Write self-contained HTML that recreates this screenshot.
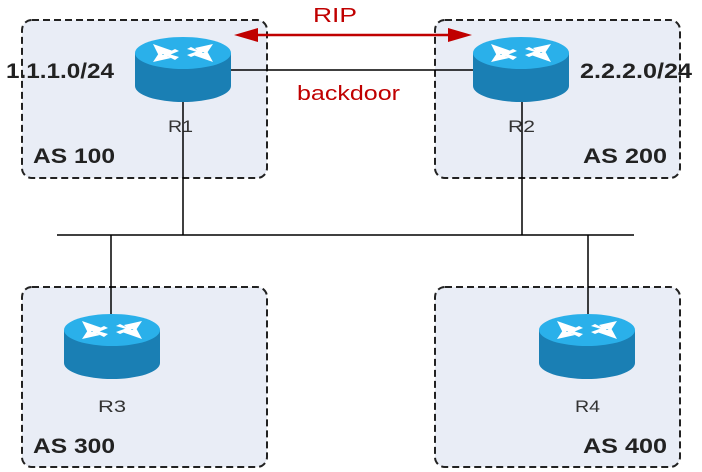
<!DOCTYPE html>
<html><head><style>body{margin:0;background:#fff}svg{display:block}</style></head><body>
<svg width="702" height="472" viewBox="0 0 702 472" font-family="Liberation Sans, sans-serif">
<defs>
<g id="rt">
<path d="M-48,0 L-48,33 A48,16 0 0 0 48,33 L48,0 Z" fill="#1a7fb4"/>
<ellipse cx="0" cy="0" rx="48" ry="16" fill="#2ab0ea"/>
<g fill="#fff">
<polygon points="-30,-9 -10,-2 -14,1 -4,4 -8,7 -20,1 -24,3"/>
<polygon points="30,-9 12,-5 15,-2 4,2 8,4 20,-1 24,0"/>
<polygon points="-30,9 -12,5 -16,3 -4,-2 -8,-4 -20,2 -24,0"/>
<polygon points="30,9 10,2 14,-1 4,-4 8,-6 20,0 24,-2"/>
</g>
</g>
</defs>
<g fill="#e9edf6" stroke="#222" stroke-width="2" stroke-dasharray="7,4">
<rect x="22" y="20" width="245" height="158" rx="10"/>
<rect x="435" y="20" width="245" height="158" rx="10"/>
<rect x="22" y="287" width="245" height="180" rx="10"/>
<rect x="435" y="287" width="245" height="180" rx="10"/>
</g>
<g stroke="#000" stroke-width="1.5">
<line x1="57" y1="235" x2="634" y2="235"/>
<line x1="183" y1="100" x2="183" y2="235"/>
<line x1="522" y1="100" x2="522" y2="235"/>
<line x1="111" y1="235" x2="111" y2="314"/>
<line x1="588" y1="235" x2="588" y2="314"/>
<line x1="230" y1="70" x2="474" y2="70"/>
</g>
<line x1="250" y1="35" x2="456" y2="35" stroke="#c00000" stroke-width="2.5"/>
<polygon points="234,35 258,28 258,42" fill="#c00000"/>
<polygon points="472,35 448,28 448,42" fill="#c00000"/>
<use href="#rt" x="183" y="53"/>
<use href="#rt" x="521" y="53"/>
<use href="#rt" x="112" y="330"/>
<use href="#rt" x="587" y="330"/>
<g font-size="20" fill="#c00000">
<text x="313" y="22" textLength="44" lengthAdjust="spacingAndGlyphs">RIP</text>
<text x="297" y="100" textLength="103" lengthAdjust="spacingAndGlyphs">backdoor</text>
</g>
<g font-size="17" fill="#333">
<text x="168" y="132" textLength="25" lengthAdjust="spacingAndGlyphs">R1</text>
<text x="508" y="132" textLength="27" lengthAdjust="spacingAndGlyphs">R2</text>
<text x="98" y="412" textLength="28" lengthAdjust="spacingAndGlyphs">R3</text>
<text x="575" y="412" textLength="25" lengthAdjust="spacingAndGlyphs">R4</text>
</g>
<g font-size="21" font-weight="bold" fill="#222" lengthAdjust="spacingAndGlyphs">
<text x="6" y="78" textLength="108" lengthAdjust="spacingAndGlyphs">1.1.1.0/24</text>
<text x="580" y="78" textLength="112" lengthAdjust="spacingAndGlyphs">2.2.2.0/24</text>
<text x="33" y="163" textLength="82" lengthAdjust="spacingAndGlyphs">AS 100</text>
<text x="583" y="163" textLength="84" lengthAdjust="spacingAndGlyphs">AS 200</text>
<text x="33" y="453" textLength="82" lengthAdjust="spacingAndGlyphs">AS 300</text>
<text x="583" y="453" textLength="84" lengthAdjust="spacingAndGlyphs">AS 400</text>
</g>
</svg>
</body></html>
